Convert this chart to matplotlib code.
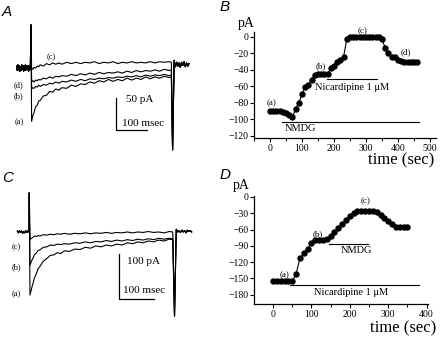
import matplotlib
matplotlib.use('Agg')
import matplotlib.pyplot as plt
from matplotlib.ticker import MultipleLocator

# ---- panel A : current traces (ms, pA) ----
a_pre_t = [-46, -44, -42, -40, -38, -36, -34, -32, -30, -28, -26, -24, -22, -20, -18, -16, -14, -12, -10, -8, -6, -4, -2]
a_pre = [3, -4, 5, -3, 4, -5, 2, -4, 5, -2, 4, -5, 3, -4, 5, -3, 4, -2, 3, -5, 4, -3, 2]
a_t = [2, 6, 10, 15, 20, 25, 30, 40, 50, 60, 70, 80, 90, 100, 115, 130, 145, 160, 175, 190,
       205, 220, 235, 250, 265, 280, 295, 310, 325, 340, 355, 370, 385, 400, 415, 430, 445, 453]
a_a = [-84, -75, -70, -61, -59, -52, -51, -44, -43, -37, -38, -33, -35, -31, -32, -27, -29, -25, -26, -22,
       -24, -20, -22, -18, -21, -18, -20, -16, -19, -16, -18, -14, -17, -14, -16, -13, -15, -14]
a_b = [-33, -31, -32, -29, -30, -27, -29, -26, -27, -24, -25, -22, -24, -21, -22, -19, -21, -18, -20, -17,
       -18, -16, -17, -15, -16, -14, -15, -13, -14, -12, -14, -11, -13, -11, -12, -10, -12, -11]
a_d = [-22, -20, -22, -19, -20, -18, -19, -16, -17, -14, -16, -13, -14, -12, -13, -10, -12, -9, -11, -8,
       -10, -7, -9, -7, -8, -6, -8, -5, -7, -4, -6, -4, -5, -3, -5, -2, -4, -3]
a_c = [0, -2, 1, 0, 3, 2, 5, 3, 7, 5, 8, 6, 8, 6, 9, 7, 9, 7, 9, 8,
       10, 7, 9, 8, 10, 7, 9, 8, 10, 8, 9, 8, 10, 8, 10, 9, 10, 9]
a_on = 68
a_off_t, a_off = 457, -129
a_post_t = [462, 466, 470, 474, 478, 482, 486, 490, 494, 498, 502, 506, 510]
a_post = [12, 2, 9, 3, 8, 1, 9, 4, 10, 2, 8, 3, 7]

# ---- panel C : current traces (ms, pA) ----
c_pre_t = [-34, -31, -28, -25, -22, -19, -16, -13, -10, -7, -4, -1]
c_pre = [2, -2, 3, -1, 2, -3, 1, -2, 3, -1, 2, 0]
c_t = [2, 6, 10, 15, 20, 25, 30, 40, 50, 60, 70, 80, 90, 100, 115, 130, 145, 160, 175, 190,
       205, 220, 235, 250, 265, 280, 295, 310, 325, 340, 355, 370, 385, 400, 410]
c_a = [-140, -127, -116, -101, -93, -82, -77, -65, -59, -52, -51, -46, -48, -42, -43, -38, -39, -34, -36, -31,
       -33, -29, -31, -27, -29, -24, -26, -22, -24, -20, -22, -18, -20, -16, -17]
c_b = [-74, -65, -59, -50, -47, -41, -40, -34, -33, -29, -30, -27, -28, -26, -27, -24, -25, -22, -24, -21,
       -22, -19, -21, -18, -20, -17, -19, -16, -18, -15, -17, -14, -16, -14, -15]
c_c = [-17, -14, -12, -9, -10, -8, -9, -6, -7, -5, -6, -4, -5, -3, -5, -3, -4, -2, -4, -2,
       -3, -1, -3, -1, -2, 0, -2, 0, -1, 1, -1, 0, -2, 1, 0]
c_on = 87
c_off_t, c_off = 415, -187
c_post_t = [420, 424, 428, 432, 436, 440, 444, 448, 452, 456, 460, 464]
c_post = [6, 0, 3, -1, 4, 0, 3, -2, 4, 1, 3, 0]

# ---- panel B : time course (sec, pA) ----
b_time = list(range(0, 470, 10))
b_amp = [-90, -90, -90, -90, -91, -93, -95, -98, -88, -80,
         -70, -61, -59, -52, -46, -45, -45, -45, -45, -38,
         -35, -31, -28, -24, -3, 0, 0, 0, 0, 0,
         0, 0, 0, 0, 0, -3, -13, -20, -24, -25,
         -28, -29, -30, -31, -30, -30, -30]

# ---- panel D : time course (sec, pA) ----
d_time = list(range(0, 360, 10))
d_amp = [-155, -155, -155, -155, -155, -155, -142, -113, -104, -95,
         -85, -80, -79, -79, -78, -71, -65, -58, -50, -42,
         -35, -29, -25, -25, -25, -25, -25, -28, -33, -38,
         -44, -50, -56, -55, -55, -55]

W, H = 441, 337
serif = ['Liberation Serif', 'DejaVu Serif']


def rect(x0, y0, x1, y1):
    return [x0 / W, 1 - y1 / H, (x1 - x0) / W, (y1 - y0) / H]


def trace(ax, pre_t, pre, t, v, on, off_t, off, post_t, post):
    tt = pre_t + [0] + t + [off_t] + post_t
    vv = pre + [on] + v + [off] + post
    ax.plot(tt, vv, color='k', lw=0.8)


fig = plt.figure(figsize=(W / 100, H / 100), dpi=100)

# Panel A
axA = fig.add_axes(rect(0, 20, 220, 160))
axA.set_xlim(-100, 610)
axA.set_ylim(-145, 75.7)
axA.axis('off')
for v in [a_a, a_b, a_d, a_c]:
    trace(axA, a_pre_t, a_pre, a_t, v, a_on, a_off_t, a_off, a_post_t, a_post)
axA.plot([273, 273, 373], [-47.8, -97.8, -97.8], color='k', lw=0.9)
axA.text(306, -49, '50 pA', family=serif, fontsize=8, va='center')
axA.text(294, -87, '100 msec', family=serif, fontsize=8, va='center')
axA.text(67, 17, '(c)', family=serif, fontsize=6, ha='center', va='center')
axA.text(-39, -27, '(d)', family=serif, fontsize=6, ha='center', va='center')
axA.text(-39, -45, '(b)', family=serif, fontsize=6, ha='center', va='center')
axA.text(-39, -86, '(a)', family=serif, fontsize=6, ha='center', va='center')

# Panel C
axC = fig.add_axes(rect(0, 185, 220, 330))
axC.set_xlim(-83.7, 545)
axC.set_ylim(-217.8, 104.4)
axC.axis('off')
for v in [c_a, c_b, c_c]:
    trace(axC, c_pre_t, c_pre, c_t, v, c_on, c_off_t, c_off, c_post_t, c_post)
axC.plot([255, 255, 355], [-48.9, -148.9, -148.9], color='k', lw=0.9)
axC.text(279, -66, '100 pA', family=serif, fontsize=8, va='center')
axC.text(268, -131, '100 msec', family=serif, fontsize=8, va='center')
axC.text(-36, -33, '(c)', family=serif, fontsize=6, ha='center', va='center')
axC.text(-36, -78, '(b)', family=serif, fontsize=6, ha='center', va='center')
axC.text(-36, -139, '(a)', family=serif, fontsize=6, ha='center', va='center')


def style(ax, ymaj):
    for s in ['top', 'right']:
        ax.spines[s].set_visible(False)
    for s in ['left', 'bottom']:
        ax.spines[s].set_linewidth(0.9)
    ax.xaxis.set_major_locator(MultipleLocator(100))
    ax.xaxis.set_minor_locator(MultipleLocator(50))
    ax.yaxis.set_major_locator(MultipleLocator(ymaj))
    ax.tick_params(direction='out', length=3, width=0.8, pad=1, labelsize=7)
    ax.tick_params(which='minor', direction='out', length=2, width=0.7)


# Panel B
axB = fig.add_axes(rect(254, 32, 436, 138))
axB.set_xlim(-50, 519)
axB.set_ylim(-123, 6)
axB.plot(b_time, b_amp, 'o-', color='k', ms=3.6, lw=0.8)
axB.plot([38, 465], [-103.6, -103.6], color='k', lw=0.8)
axB.plot([179, 335], [-51.4, -51.4], color='k', lw=0.8)
style(axB, 20)
axB.set_yticks(range(-120, 1, 20))
axB.set_xticks(range(0, 501, 100))
axB.text(94, -112, 'NMDG', family=serif, fontsize=7.5, ha='center', va='center')
axB.text(256, -62, 'Nicardipine 1 \u03bcM', family=serif, fontsize=7.5, ha='center', va='center')
axB.text(5, -86, '(a)', family=serif, fontsize=6.5, ha='center', va='bottom')
axB.text(159, -36, '(b)', family=serif, fontsize=6.5, ha='center', va='center')
axB.text(289, 7, '(c)', family=serif, fontsize=6.5, ha='center', va='center', clip_on=False)
axB.text(424, -18.5, '(d)', family=serif, fontsize=6.5, ha='center', va='center')
for lab in axB.get_xticklabels() + axB.get_yticklabels():
    lab.set_family(serif)

# Panel D
axD = fig.add_axes(rect(254, 196, 428, 304))
axD.set_xlim(-49.5, 403.6)
axD.set_ylim(-197, 1.8)
axD.plot(d_time, d_amp, 'o-', color='k', ms=3.6, lw=0.8)
axD.plot([146, 247], [-86.6, -86.6], color='k', lw=0.8)
axD.plot([44, 380], [-162.7, -162.7], color='k', lw=0.8)
style(axD, 30)
axD.set_yticks(range(-180, 1, 30))
axD.set_xticks(range(0, 401, 100))
axD.text(218, -98, 'NMDG', family=serif, fontsize=7.5, ha='center', va='center')
axD.text(203, -175, 'Nicardipine 1 \u03bcM', family=serif, fontsize=7.5, ha='center', va='center')
axD.text(31, -143.6, '(a)', family=serif, fontsize=6.5, ha='center', va='center')
axD.text(117, -68.5, '(b)', family=serif, fontsize=6.5, ha='center', va='center')
axD.text(242, -7, '(c)', family=serif, fontsize=6.5, ha='center', va='center')
for lab in axD.get_xticklabels() + axD.get_yticklabels():
    lab.set_family(serif)

# axis labels and panel letters
fig.text(238 / W, 1 - 23 / H, 'pA', family=serif, fontsize=10, va='center')
fig.text(233 / W, 1 - 186 / H, 'pA', family=serif, fontsize=10, va='center')
fig.text(401 / W, 1 - 160 / H, 'time (sec)', family=serif, fontsize=12, ha='center', va='center')
fig.text(403 / W, 1 - 328 / H, 'time (sec)', family=serif, fontsize=12, ha='center', va='center')
for x, y, s in [(2, 12, 'A'), (220, 7, 'B'), (2, 178, 'C'), (220, 175, 'D')]:
    fig.text(x / W, 1 - y / H, s, family=['Liberation Sans', 'DejaVu Sans'],
             style='italic', fontsize=11, va='center')

fig.savefig('out.png', dpi=100)
